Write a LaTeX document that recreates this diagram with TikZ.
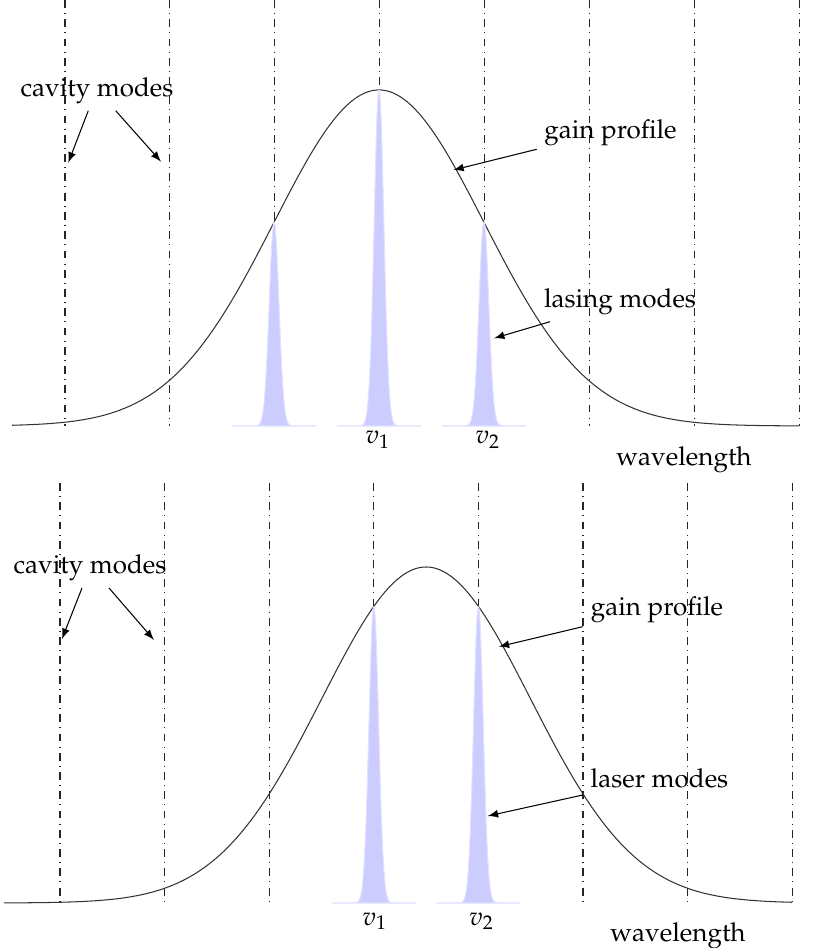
\documentclass[tikz,border=0pt]{standalone}
\usepackage[T1]{fontenc}
\usepackage{mathpazo}
\begin{document}
\begin{tikzpicture}[x=0.384pt,y=-0.384pt,
  cav/.style={dash dot, black!85, line width=0.4pt},
  gain/.style={black!80, line width=0.4pt},
  peak/.style={fill=blue!20, draw=blue!12, line width=0.4pt},
  lbl/.style={inner sep=0pt, anchor=base},
  arr/.style={-latex, line width=0.4pt}]
\useasboundingbox (0,0) rectangle (832,948);
% ---------- top panel ----------
\foreach \i in {0,...,7}
  \draw[cav] ({65+104.9*\i},0) -- ({65+104.9*\i},426);
\draw[gain] plot[domain=12:799, samples=240, smooth] (\x, {426-336*exp(-0.5*((\x-379)/104.9)^2)});
\foreach \c/\h in {274.1/203.8, 379/336, 483.9/203.8}
  \draw[peak] plot[domain=-42:42, samples=160] ({\c+\x}, {426-\h*exp(-0.5*(\x/4.8)^2)}) -- cycle;
\node[lbl] (cavA) at (97,97) {cavity modes};
\node[lbl] (gainA) at (610.5,139) {gain profile};
\node[lbl] (lasA) at (620,308) {lasing modes};
\node[lbl] (wlA) at (684,466) {wavelength};
\node[lbl] (v1A) at (378,443.5) {$v_1$};
\node[lbl] (v2A) at (488,443.5) {$v_2$};
\coordinate (cA1s) at (88.3,110.7); \coordinate (cA1e) at (68.3,162.7);
\coordinate (cA2s) at (115.7,110.7); \coordinate (cA2e) at (161,161.7);
\coordinate (gAs) at (536.7,149.3); \coordinate (gAe) at (453.3,170);
\coordinate (lAs) at (550,321.7); \coordinate (lAe) at (494,338.3);
\draw[arr] (cA1s) -- (cA1e);
\draw[arr] (cA2s) -- (cA2e);
\draw[arr] (gAs) -- (gAe);
\draw[arr] (lAs) -- (lAe);
% ---------- bottom panel ----------
\foreach \i in {0,...,7}
  \draw[cav] ({60+104.6*\i},483) -- ({60+104.6*\i},903);
\draw[gain] plot[domain=4:792, samples=240, smooth] (\x, {903-336*exp(-0.5*((\x-426.1)/104.6)^2)});
\foreach \c in {373.8, 478.4}
  \draw[peak] plot[domain=-42:42, samples=160] ({\c+\x}, {903-296.5*exp(-0.5*(\x/4.8)^2)}) -- cycle;
\node[lbl] (cavB) at (90,573) {cavity modes};
\node[lbl] (gainB) at (657,615) {gain profile};
\node[lbl] (lasB) at (659.5,787) {laser modes};
\node[lbl] (wlB) at (678,941) {wavelength};
\node[lbl] (v1B) at (375,925) {$v_1$};
\node[lbl] (v2B) at (481.7,925) {$v_2$};
\coordinate (cB1s) at (82,588); \coordinate (cB1e) at (62,639);
\coordinate (cB2s) at (109,588); \coordinate (cB2e) at (154,640);
\coordinate (gBs) at (582.7,626.7); \coordinate (gBe) at (498.7,646.7);
\coordinate (lBs) at (582.7,795); \coordinate (lBe) at (487.7,816);
\draw[arr] (cB1s) -- (cB1e);
\draw[arr] (cB2s) -- (cB2e);
\draw[arr] (gBs) -- (gBe);
\draw[arr] (lBs) -- (lBe);
\end{tikzpicture}
\end{document}
